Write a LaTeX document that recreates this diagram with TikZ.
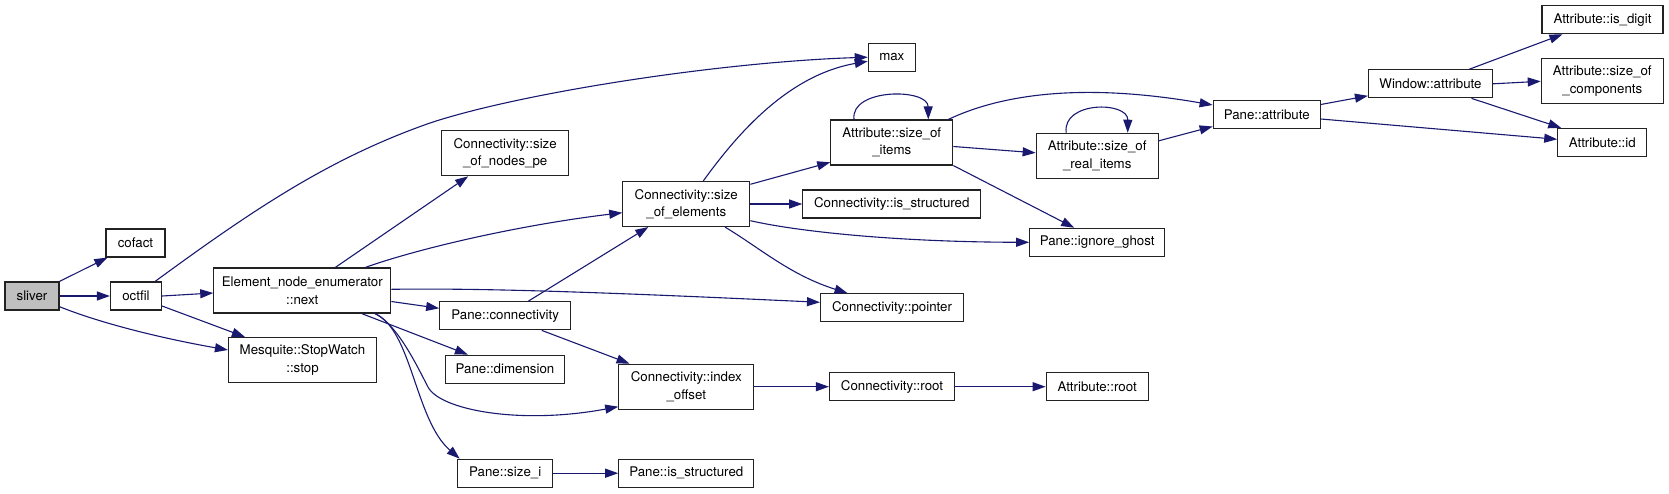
\documentclass[tikz,border=0pt]{standalone}
\usepackage{fontspec}
\setmainfont{TeX Gyre Heros}
\usetikzlibrary{arrows.meta}
\definecolor{edgecol}{HTML}{191970}
\definecolor{rootfill}{HTML}{BFBFBF}
\definecolor{boxline}{HTML}{222222}
\begin{document}
\begin{tikzpicture}[x=1pt,y=-1pt,
  box/.style={draw=boxline, line width=1.15pt, fill=white, inner sep=0pt, align=center,
    font=\fontsize{13.3}{17.5}\selectfont},
  edge/.style={draw=edgecol, line width=1.1pt, -{Triangle[length=13pt,width=9pt]}},
]
\useasboundingbox (0,0) rectangle (1669,493);
% nodes
\node[box, fill=rootfill, minimum width=54, minimum height=28] (sliver) at (32,296) {sliver};
\node[box, minimum width=59, minimum height=28] (cofact) at (135.5,243) {cofact};
\node[box, minimum width=51, minimum height=28] (octfil) at (136,296) {octfil};
\node[box, minimum width=177, minimum height=45] (next) at (302.3,290.5) {Element\_node\_enumerator\\::next};
\node[box, minimum width=148, minimum height=45] (stop) at (302.5,360) {Mesquite::StopWatch\\::stop};
\node[box, minimum width=127, minimum height=45] (nodespe) at (505.2,153.3) {Connectivity::size\\\_of\_nodes\_pe};
\node[box, minimum width=131, minimum height=28] (conn) at (505.2,315.8) {Pane::connectivity};
\node[box, minimum width=119, minimum height=28] (dim) at (505,369.2) {Pane::dimension};
\node[box, minimum width=95, minimum height=28] (sizei) at (505.2,473.2) {Pane::size\_i};
\node[box, minimum width=127, minimum height=45] (elems) at (686.3,204) {Connectivity::size\\\_of\_elements};
\node[box, minimum width=135, minimum height=45] (index) at (686.3,386.7) {Connectivity::index\\\_offset};
\node[box, minimum width=135, minimum height=28] (pisstr) at (686.3,473.2) {Pane::is\_structured};
\node[box, minimum width=47, minimum height=28] (max) at (891.8,57.2) {max};
\node[box, minimum width=122, minimum height=45] (items) at (891.8,142.5) {Attribute::size\_of\\\_items};
\node[box, minimum width=178, minimum height=28] (cisstr) at (891.8,204) {Connectivity::is\_structured};
\node[box, minimum width=143, minimum height=28] (pointer) at (892,307.7) {Connectivity::pointer};
\node[box, minimum width=125, minimum height=28] (croot) at (892,386.7) {Connectivity::root};
\node[box, minimum width=122, minimum height=45] (real) at (1097.2,155.8) {Attribute::size\_of\\\_real\_items};
\node[box, minimum width=135, minimum height=28] (ghost) at (1097.2,242.3) {Pane::ignore\_ghost};
\node[box, minimum width=102, minimum height=28] (aroot) at (1097.2,386.7) {Attribute::root};
\node[box, minimum width=107, minimum height=28] (pattr) at (1266.7,114.5) {Pane::attribute};
\node[box, minimum width=124, minimum height=28] (window) at (1430.5,83.8) {Window::attribute};
\node[box, minimum width=121, minimum height=28] (isdigit) at (1602.5,19.8) {Attribute::is\_digit};
\node[box, minimum width=122, minimum height=45] (comp) at (1602.3,81.3) {Attribute::size\_of\\\_components};
\node[box, minimum width=89, minimum height=28] (aid) at (1602.3,142.5) {Attribute::id};
% edges
\draw[edge] (sliver.north east) -- ([xshift=2]cofact.south west);
\draw[edge] (sliver.east) -- (octfil.west);
\draw[edge] ([yshift=-10.7]sliver.east) .. controls (100,323) and (160,338) .. ([yshift=10]stop.west);
\draw[edge] ([xshift=-7]octfil.north east) .. controls (254,209) and (330,158) .. (430,123)
   .. controls (520,93) and (720,62) .. (max.west);
\draw[edge] (octfil.east) -- ([yshift=-2.5]next.west);
\draw[edge] ([yshift=-10]octfil.east) -- ([xshift=17]stop.north west);
\draw[edge] ([xshift=33]next.north) -- ([xshift=27]nodespe.south west);
\draw[edge] ([xshift=63]next.north) .. controls (420,248) and (520,225) .. ([yshift=-8.7]elems.west);
\draw[edge] ([yshift=1.2]next.east) .. controls (480,288) and (600,292) .. ([yshift=5.4]pointer.west);
\draw[edge] ([yshift=-11]next.east) -- ([yshift=7.5]conn.west);
\draw[edge] ([xshift=59.4]next.south) -- ([xshift=23]dim.north west);
\draw[edge] ([xshift=72.7]next.south) .. controls (398,325) and (418,368) .. (428,387)
   .. controls (440,410) and (520,425) .. ([yshift=-20]index.west);
\draw[edge] ([xshift=72.7]next.south) .. controls (412,330) and (415,420) .. ([xshift=2.5]sizei.north west);
\draw[edge] ([xshift=23]conn.north) -- ([xshift=-38]elems.south);
\draw[edge] ([xshift=36.5]conn.south) -- ([xshift=11.3]index.north west);
\draw[edge] (sizei.east) -- (pisstr.west);
\draw[edge] ([xshift=17]elems.north) .. controls (740,130) and (790,75) .. ([yshift=-4]max.west);
\draw[edge] ([yshift=19.7]elems.east) -- ([yshift=3.3]items.south west);
\draw[edge] (elems.east) -- (cisstr.west);
\draw[edge] ([yshift=-16.7]elems.east) .. controls (800,232) and (900,242) .. (ghost.west);
\draw[edge] ([xshift=38.7]elems.south) .. controls (760,248) and (790,275) .. ([xshift=27.6]pointer.north west);
\draw[edge] (index.east) -- (croot.west);
\draw[edge] (croot.east) -- (aroot.west);
\draw[edge] ([xshift=-37.8]items.north) .. controls (850,88) and (928,88) .. ([xshift=36.5]items.north);
\draw[edge] ([xshift=56.5]items.north) .. controls (1000,95) and (1080,82) .. ([yshift=9.5]pattr.west);
\draw[edge] ([yshift=-4]items.east) -- ([yshift=3]real.west);
\draw[edge] (items.south east) -- ([xshift=-23]ghost.north);
\draw[edge] ([xshift=-31]real.north) .. controls (1062,101) and (1128,101) .. ([xshift=30.5]real.north);
\draw[edge] ([yshift=15]real.east) -- ([yshift=-12]pattr.west);
\draw[edge] ([yshift=10]pattr.east) -- ([yshift=-12]window.west);
\draw[edge] ([yshift=-4.5]pattr.east) -- ([yshift=3.2]aid.west);
\draw[edge] ([xshift=38.8]window.north) -- ([xshift=21]isdigit.south west);
\draw[edge] (window.east) -- (comp.west);
\draw[edge] ([xshift=41]window.south) -- ([xshift=4]aid.north west);
\end{tikzpicture}
\end{document}
